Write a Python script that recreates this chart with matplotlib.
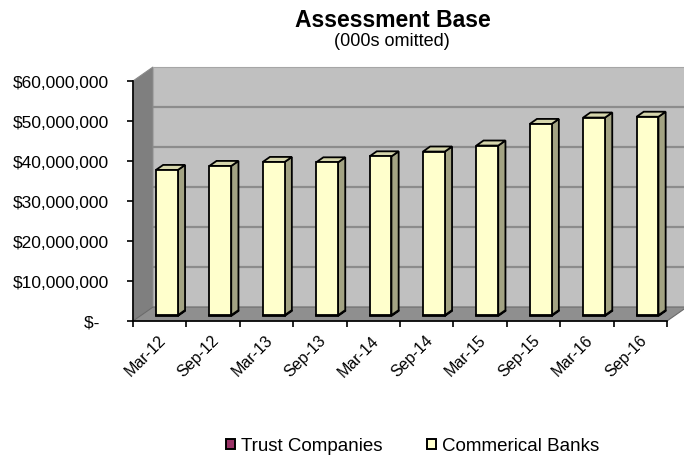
import matplotlib
matplotlib.use("Agg")
import matplotlib.pyplot as plt
from matplotlib.patches import Polygon, Patch
from matplotlib.ticker import FuncFormatter, FixedLocator
from matplotlib.transforms import ScaledTranslation

plt.rcParams['font.family'] = ['Liberation Sans', 'DejaVu Sans']

# ---- data ----
categories = ["Mar-12", "Sep-12", "Mar-13", "Sep-13", "Mar-14",
              "Sep-14", "Mar-15", "Sep-15", "Mar-16", "Sep-16"]
trust_companies = [200000, 200000, 200000, 200000, 200000,
                   200000, 200000, 200000, 200000, 200000]
commercial_banks = [36300000, 37300000, 38300000, 38200000, 39700000,
                    40900000, 42400000, 47800000, 49400000, 49600000]
y_ticks = [0, 10000000, 20000000, 30000000, 40000000, 50000000, 60000000]
title = "Assessment Base"
subtitle = "(000s omitted)"
legend_labels = ["Trust Companies", "Commerical Banks"]

W_PX, H_PX = 684, 456
fig = plt.figure(figsize=(W_PX / 100, H_PX / 100), dpi=100)
fig.patch.set_facecolor("white")

ax_l, ax_r, ax_t, ax_b = 133, 667, 82, 322
ax = fig.add_axes([ax_l / W_PX, 1 - ax_b / H_PX,
                   (ax_r - ax_l) / W_PX, (ax_b - ax_t) / H_PX])
n = len(categories)
ymax = y_ticks[-1]
ax.set_xlim(0, n)
ax.set_ylim(0, ymax)
ax.set_facecolor("none")

# depth offsets (pixels -> data units)
ppx = (ax_r - ax_l) / n
ppy = (ax_b - ax_t) / ymax
DX = 20 / ppx
DY = 14 / ppy

def add_poly(pts, fc, ec, lw=0.8, z=1):
    p = Polygon(pts, closed=True, facecolor=fc, edgecolor=ec, linewidth=lw,
                zorder=z, clip_on=False, joinstyle="miter")
    ax.add_patch(p)

# left wall
add_poly([(0, 0), (0, ymax), (DX, ymax + DY), (DX, DY)], "#7f7f7f", "#8a8a8a", z=0.5)
# back wall
add_poly([(DX, DY), (n + DX, DY), (n + DX, ymax + DY), (DX, ymax + DY)],
         "#c0c0c0", "#a6a6a6", z=0.5)
# gridlines on back wall
for v in y_ticks[1:-1]:
    ax.plot([DX, n + DX], [v + DY, v + DY], color="#8c8c8c", lw=1.6,
            zorder=0.6, clip_on=False, solid_capstyle="butt")
# floor
add_poly([(0, 0), (n, 0), (n + DX, DY), (DX, DY)], "#8f8f8f", "#6a6a6a", lw=0.8, z=0.7)

# bars
bw = 0.41
d0, d1 = 0.36, 0.72
fx, fy = d0 * DX, d0 * DY
sx, sy = (d1 - d0) * DX, (d1 - d0) * DY
lw = 1.3

def draw_block(xc, y0, y1, front, side, top, z):
    xl = xc - bw / 2 + fx
    xr = xc + bw / 2 + fx
    b = y0 + fy
    t = y1 + fy
    add_poly([(xr, b), (xr + sx, b + sy), (xr + sx, t + sy), (xr, t)], side, "black", lw, z)
    add_poly([(xl, t), (xr, t), (xr + sx, t + sy), (xl + sx, t + sy)], top, "black", lw, z)
    add_poly([(xl, b), (xr, b), (xr, t), (xl, t)], front, "black", lw, z + 0.01)

for i in range(n):
    xc = i + 0.5
    tr = trust_companies[i]
    cb = commercial_banks[i]
    draw_block(xc, 0, tr, "#993366", "#6b2447", "#b85c8a", 2 + i * 0.05)
    draw_block(xc, tr, tr + cb, "#ffffcc", "#a3a383", "#d6d6ac", 2.02 + i * 0.05)

# axes styling
for s in ["top", "right"]:
    ax.spines[s].set_visible(False)
for s in ["left", "bottom"]:
    ax.spines[s].set_color("black")
    ax.spines[s].set_linewidth(1.2)
    ax.spines[s].set_zorder(5)

def yfmt(v, pos):
    if v == 0:
        return "$-  "
    return "${:,.0f}".format(v)

ax.yaxis.set_major_locator(FixedLocator(y_ticks))
ax.yaxis.set_major_formatter(FuncFormatter(yfmt))
ax.tick_params(axis="y", which="major", direction="out", length=4, width=1.2,
               pad=13, labelsize=12.5, colors="black")

ax.xaxis.set_major_locator(FixedLocator(list(range(n + 1))))
ax.xaxis.set_major_formatter(FuncFormatter(lambda v, p: ""))
ax.xaxis.set_minor_locator(FixedLocator([i + 0.5 for i in range(n)]))
ax.set_xticklabels(categories, minor=True)
ax.tick_params(axis="x", which="major", direction="out", length=4, width=1.2, colors="black")
ax.tick_params(axis="x", which="minor", length=0, pad=8, labelsize=11.5)
off = ScaledTranslation(9 / 100, 0, fig.dpi_scale_trans)
for lab in ax.get_xticklabels(minor=True):
    lab.set_rotation(45)
    lab.set_ha("right")
    lab.set_va("top")
    lab.set_transform(lab.get_transform() + off)

# titles
fig.text(393 / W_PX, 1 - 20.5 / H_PX, title, ha="center", va="center",
         fontsize=16.5, fontweight="bold")
fig.text(391.5 / W_PX, 1 - 41.5 / H_PX, subtitle, ha="center", va="center", fontsize=13)

# legend
handles = [Patch(facecolor="#993366", edgecolor="black", linewidth=1.4),
           Patch(facecolor="#ffffcc", edgecolor="black", linewidth=1.4)]
fig.legend(handles, legend_labels, loc="center", bbox_to_anchor=(412.5 / W_PX, 1 - 447 / H_PX),
           ncol=2, frameon=False, fontsize=13.5, handlelength=0.48, handleheight=0.48,
           handletextpad=0.32, columnspacing=2.4, borderaxespad=0, borderpad=0)

fig.savefig("out.png", dpi=100)
